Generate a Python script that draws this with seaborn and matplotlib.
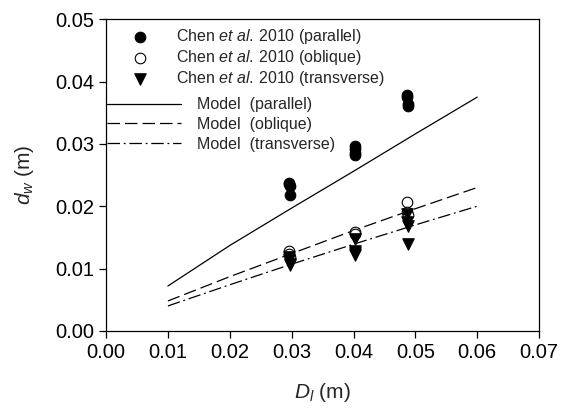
import matplotlib
matplotlib.use("Agg")
import matplotlib.pyplot as plt
import numpy as np
import pandas as pd
import seaborn as sns

par_x = [0.0295, 0.0295, 0.0297, 0.0297, 0.0402, 0.0402, 0.0403, 0.0403, 0.0487, 0.0487, 0.0488, 0.0488]
par_y = [0.0238, 0.0236, 0.0232, 0.0218, 0.0296, 0.0292, 0.0286, 0.0282, 0.0379, 0.0375, 0.0364, 0.0361]

obl_x = [0.0295, 0.0296, 0.0297, 0.0402, 0.0403, 0.0487, 0.0487, 0.0488]
obl_y = [0.0128, 0.0123, 0.0118, 0.0158, 0.0155, 0.0207, 0.0190, 0.0186]

trn_x = [0.0295, 0.0296, 0.0297, 0.0297, 0.0402, 0.0402, 0.0403, 0.0403, 0.0487, 0.0487, 0.0488, 0.0488]
trn_y = [0.0118, 0.0113, 0.0108, 0.0105, 0.0148, 0.0128, 0.0125, 0.0122, 0.0187, 0.0175, 0.0168, 0.0139]

# model curves
model_x = [0.01, 0.02, 0.03, 0.04, 0.05, 0.06]
model_par = [0.0072, 0.0137, 0.0197, 0.0256, 0.0316, 0.0375]
model_obl = [0.0048, 0.0087, 0.0124, 0.0161, 0.0196, 0.0230]
model_trn = [0.0040, 0.0074, 0.0107, 0.0139, 0.0170, 0.0200]

x_ticks = [0.00, 0.01, 0.02, 0.03, 0.04, 0.05, 0.06, 0.07]
y_ticks = [0.00, 0.01, 0.02, 0.03, 0.04, 0.05]

sns.set_style("ticks")
plt.rcParams["font.family"] = ["Liberation Sans", "DejaVu Sans"]
plt.rcParams["mathtext.fontset"] = "custom"
plt.rcParams["mathtext.rm"] = "Liberation Sans"
plt.rcParams["mathtext.it"] = "Liberation Sans:italic"

fig = plt.figure(figsize=(5.61, 4.08), dpi=100)
ax = fig.add_axes([0.189, 0.189, 0.772, 0.764])

chen = r"Chen $\it{et\ al.}\,$2010"
ms = 58
sns.scatterplot(x=par_x, y=par_y, marker="o", s=ms, color="black", edgecolor="black",
                linewidth=0.8, ax=ax, label=chen + " (parallel)", zorder=3)
sns.scatterplot(x=obl_x, y=obl_y, marker="o", s=ms, facecolor="white", edgecolor="black",
                linewidth=0.8, ax=ax, label=chen + " (oblique)", zorder=3)
sns.scatterplot(x=trn_x, y=trn_y, marker="v", s=ms + 10, color="black", edgecolor="black",
                linewidth=0.8, ax=ax, label=chen + " (transverse)", zorder=3)

sns.lineplot(x=model_x, y=model_par, color="black", lw=0.9, ls="-", ax=ax, label="Model  (parallel)")
sns.lineplot(x=model_x, y=model_obl, color="black", lw=0.9, ax=ax, label="Model  (oblique)",
             dashes=False).lines[-1].set_dashes([10, 4])
sns.lineplot(x=model_x, y=model_trn, color="black", lw=0.9, ax=ax, label="Model  (transverse)",
             dashes=False).lines[-1].set_dashes([10, 3, 1.5, 3])

handles, labels = ax.get_legend_handles_labels()
leg1 = ax.legend(handles[:3], labels[:3], loc="upper left", bbox_to_anchor=(0.061, 0.975),
                 frameon=False, fontsize=11.5, handlelength=1.0, handletextpad=1.7,
                 labelspacing=0.12, borderaxespad=0.0, borderpad=0.0)
ax.add_artist(leg1)
ax.legend(handles[3:], labels[3:], loc="upper left", bbox_to_anchor=(0.003, 0.75),
          frameon=False, fontsize=11.5, handlelength=4.6, handletextpad=1.0,
          labelspacing=0.3, borderaxespad=0.0, borderpad=0.0)

ax.set_xlim(0, 0.07)
ax.set_ylim(0, 0.05)
ax.set_xticks(x_ticks)
ax.set_yticks(y_ticks)
ax.set_xticklabels([f"{v:.2f}" for v in x_ticks])
ax.set_yticklabels([f"{v:.2f}" for v in y_ticks])
ax.tick_params(direction="out", length=5, width=0.9, labelsize=14.5, colors="black",
               top=False, right=False)
for s in ax.spines.values():
    s.set_visible(True)
    s.set_linewidth(0.9)
    s.set_color("black")

ax.set_xlabel(r"$D_l$ (m)", fontsize=15, labelpad=14)
ax.set_ylabel(r"$d_w$ (m)", fontsize=15, labelpad=14)

fig.savefig("out.png", dpi=100)
